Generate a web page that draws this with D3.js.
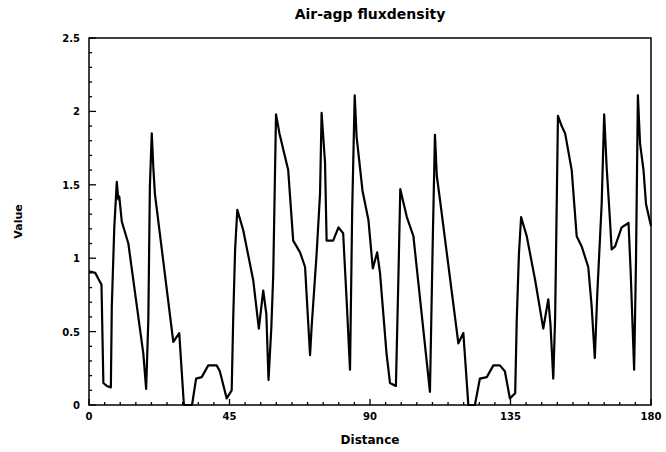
<!DOCTYPE html>
<html><head><meta charset="utf-8">
<script src="https://cdn.jsdelivr.net/npm/d3@7"></script>
<style>body{margin:0;background:#fff}svg{display:block}text{font-family:"DejaVu Sans",sans-serif;font-weight:bold;fill:#000}</style>
</head><body><svg id="c" width="666" height="452"></svg>
<script>
const distance = [0,2,3.5,4.0,4.6,5.7,7.0,7.3,8.1,8.9,9.4,9.7,10.5,12.6,17.4,18.3,19.0,19.5,20.1,20.6,21.1,27.0,28.9,30.4,33.0,34.3,36.1,38.2,40.9,41.9,44.1,45.7,46.2,46.8,47.5,49.4,52.6,54.4,55.8,56.8,57.5,58.4,59.0,59.9,61.0,63.8,65.4,67.6,69.2,70.8,71.3,72.9,74.0,74.5,75.6,76.1,78.2,79.9,81.4,82.5,83.6,84.3,85.1,85.7,87.6,89.5,90.9,92.3,93.2,95.3,96.4,98.3,99.1,99.7,101.8,103.9,109.2,110.1,110.8,111.4,112.4,118.3,119.9,121.5,123.6,125.2,127.4,129.5,131.6,133.2,134.8,136.5,137.0,137.7,138.4,140.2,142.9,145.5,147.1,147.8,148.7,149.3,150.2,151.4,152.5,154.6,156.2,157.8,159.9,161.0,162.0,162.8,164.2,165.0,165.8,166.8,167.4,168.5,170.6,172.8,173.5,174.6,175.2,175.8,176.5,177.6,178.4,180];
const value = [0.91,0.90,0.84,0.82,0.15,0.13,0.12,0.67,1.21,1.52,1.40,1.42,1.25,1.10,0.35,0.11,0.58,1.49,1.85,1.62,1.44,0.43,0.49,0.0,0.0,0.18,0.19,0.27,0.27,0.23,0.045,0.10,0.60,1.06,1.33,1.19,0.85,0.52,0.78,0.62,0.17,0.53,0.88,1.98,1.85,1.60,1.12,1.04,0.94,0.34,0.53,1.03,1.44,1.99,1.65,1.12,1.12,1.21,1.17,0.72,0.24,1.33,2.11,1.83,1.46,1.26,0.93,1.04,0.90,0.35,0.15,0.13,0.87,1.47,1.28,1.15,0.09,1.12,1.84,1.56,1.40,0.42,0.49,0.0,0.0,0.18,0.19,0.27,0.27,0.23,0.045,0.08,0.58,1.03,1.28,1.15,0.85,0.52,0.72,0.55,0.18,0.60,1.97,1.90,1.85,1.60,1.15,1.08,0.94,0.67,0.32,0.76,1.37,1.98,1.62,1.28,1.06,1.08,1.21,1.24,0.90,0.24,0.99,2.11,1.78,1.60,1.37,1.22];
const xTicks = [0,45,90,135,180];
const yTicks = [0,0.5,1,1.5,2,2.5];
const yTickLabels = ["0","0.5","1","1.5","2","2.5"];
const title = "Air-agp fluxdensity";
const xLabel = "Distance";
const yLabel = "Value";

const L=89,R=651,T=38,B=405;
const svg=d3.select("#c");
const x=d3.scaleLinear().domain([0,180]).range([L,R]);
const y=d3.scaleLinear().domain([0,2.5]).range([B,T]);

svg.append("rect").attr("x",L).attr("y",T).attr("width",R-L).attr("height",B-T)
  .attr("fill","none").attr("stroke","#000").attr("stroke-width",1.5);

const xMinor=d3.range(0,181,5);
svg.append("g").selectAll("line").data(xMinor).join("line")
  .attr("x1",d=>x(d)).attr("x2",d=>x(d)).attr("y1",B).attr("y2",d=>B-(xTicks.includes(d)?6:3))
  .attr("stroke","#000").attr("stroke-width",1.3);
svg.append("g").selectAll("text").data(xTicks).join("text")
  .attr("x",d=>x(d)).attr("y",B+15).attr("text-anchor","middle").attr("font-size",10).text(d=>d);

const yMinor=d3.range(0,26).map(d=>d/10);
svg.append("g").selectAll("line").data(yMinor).join("line")
  .attr("y1",d=>y(d)).attr("y2",d=>y(d)).attr("x1",L).attr("x2",(d,i)=>L+(i%5===0?7:3))
  .attr("stroke","#000").attr("stroke-width",1.3);
svg.append("g").selectAll("text").data(yTicks).join("text")
  .attr("x",L-9).attr("y",d=>y(d)+4).attr("text-anchor","end").attr("font-size",10).text((d,i)=>yTickLabels[i]);

const pts=distance.map((d,i)=>[d,value[i]]);
svg.append("path").datum(pts)
  .attr("d",d3.line().x(d=>x(d[0])).y(d=>y(d[1])))
  .attr("fill","none").attr("stroke","#000").attr("stroke-width",2.2).attr("stroke-linejoin","round");

svg.append("text").attr("x",(L+R)/2).attr("y",19).attr("text-anchor","middle").attr("font-size",14).text(title);
svg.append("text").attr("x",(L+R)/2).attr("y",444).attr("text-anchor","middle").attr("font-size",12).text(xLabel);
svg.append("text").attr("transform",`translate(22,${(T+B)/2}) rotate(-90)`).attr("text-anchor","middle").attr("font-size",11).text(yLabel);
</script></body></html>
